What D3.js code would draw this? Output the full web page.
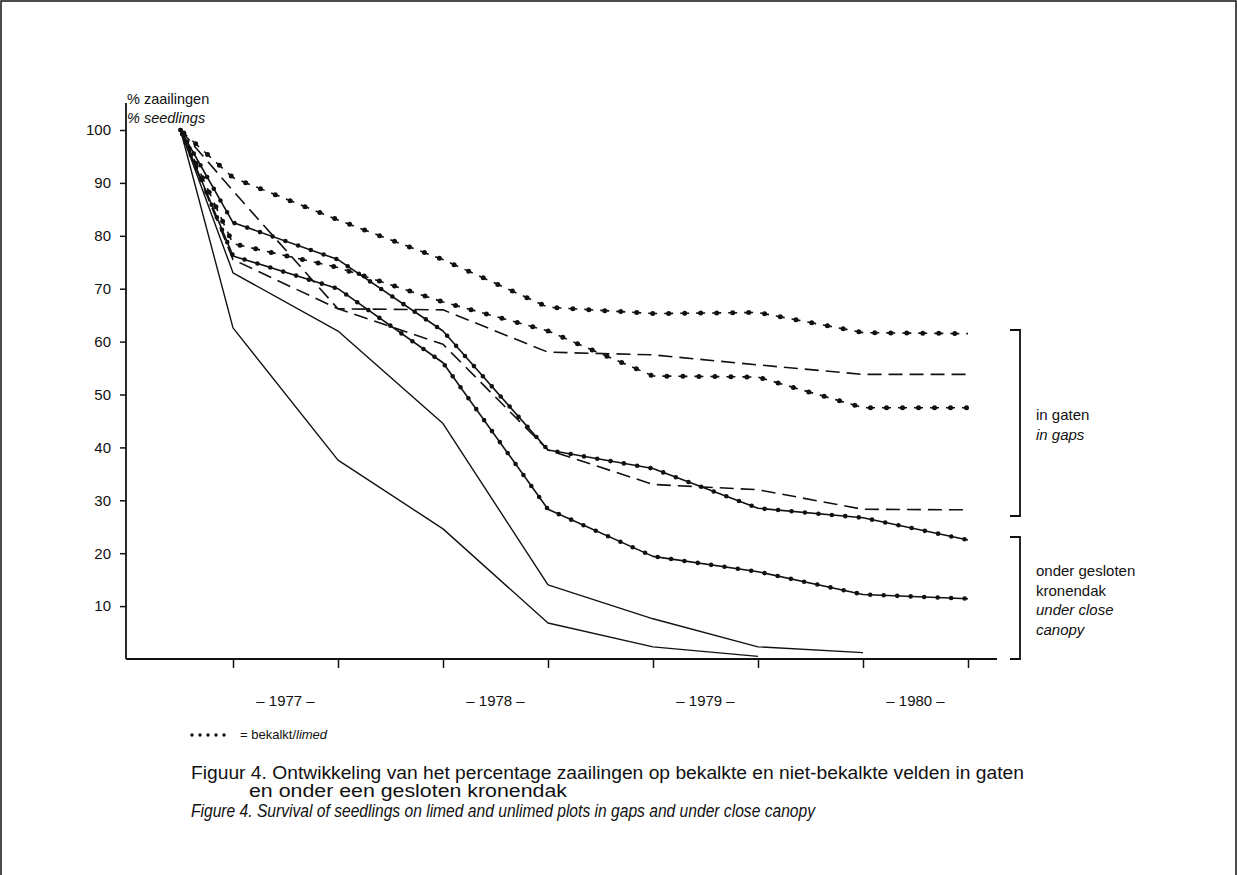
<!DOCTYPE html>
<html>
<head>
<meta charset="utf-8">
<script src="https://cdn.jsdelivr.net/npm/d3@7"></script>
<style>
  body { margin: 0; background: #fff; }
  svg { display: block; }
  text { font-family: 'Liberation Sans', Arial, sans-serif; fill: #111; }
</style>
</head>
<body>
<svg id="chart" width="1237" height="875"></svg>
<script>
// sample moments: start + two counts per year (1977..1980)
const samplePos = [0.5, 1, 2, 3, 4, 5, 6, 7, 8];
const xTicks = [1, 2, 3, 4, 5, 6, 7, 8];
const yTicks = [10, 20, 30, 40, 50, 60, 70, 80, 90, 100];
const years = ['1977', '1978', '1979', '1980'];
const yearPos = [1.5, 3.5, 5.5, 7.5];

// in gaten / in gaps
const gapLimedA = [100, 91, 83, 75.5, 66.5, 65.3, 65.5, 61.7, 61.5];
const gapLimedB = [100, 78.5, 74, 67.5, 62, 53.5, 53.3, 47.5, 47.5];
const gapUnlimedA = [100, 88.5, 66.2, 66, 58, 57.5, 55.6, 53.8, 53.8];
const gapUnlimedB = [100, 75.5, 66.2, 59.5, 39.5, 33, 32, 28.3, 28.2];
// onder gesloten kronendak / under close canopy
const canopyLimedA = [100, 82.5, 75.5, 62, 39.5, 36, 28.5, 26.7, 22.5];
const canopyLimedB = [100, 76.2, 70, 56, 28.3, 19.4, 16.5, 12.2, 11.4];
const canopyUnlimedA = [100, 73, 62, 44.5, 14, 7.6, 2.3, 1.2, null];
const canopyUnlimedB = [100, 62.6, 37.6, 24.6, 6.8, 2.3, 0.5, null, null];

const series = [
  { values: gapLimedA, kind: 'gapLimed' },
  { values: gapLimedB, kind: 'gapLimed' },
  { values: gapUnlimedA, kind: 'gapUnlimed' },
  { values: gapUnlimedB, kind: 'gapUnlimed' },
  { values: canopyLimedA, kind: 'canopyLimed' },
  { values: canopyLimedB, kind: 'canopyLimed' },
  { values: canopyUnlimedA, kind: 'canopyUnlimed' },
  { values: canopyUnlimedB, kind: 'canopyUnlimed' }
];

const svg = d3.select('#chart');
const ink = '#111';

// frame
svg.append('path')
  .attr('d', 'M1,875 V1 H1236 V875')
  .attr('fill', 'none')
  .attr('stroke', ink)
  .attr('stroke-width', 1.5);

const x = d3.scaleLinear().domain([1, 8]).range([233, 968]);
const y = d3.scaleLinear().domain([0, 100]).range([659, 130]);

// y axis
const yAxis = svg.append('g')
  .attr('transform', 'translate(126,0)')
  .call(d3.axisLeft(y).tickValues(yTicks).tickSize(6).tickPadding(9));
yAxis.select('.domain').remove();
yAxis.selectAll('line').attr('stroke', ink).attr('stroke-width', 1.5);
yAxis.selectAll('text').style('font-size', '15px').style('font-family', null).attr('fill', ink);
svg.append('line')
  .attr('x1', 126).attr('x2', 126)
  .attr('y1', 103).attr('y2', y(0))
  .attr('stroke', ink).attr('stroke-width', 1.8);

// x axis
const xAxis = svg.append('g')
  .attr('transform', 'translate(0,' + y(0) + ')')
  .call(d3.axisBottom(x).tickValues(xTicks).tickSize(9).tickFormat(''));
xAxis.select('.domain').remove();
xAxis.selectAll('line').attr('stroke', ink).attr('stroke-width', 1.5);
svg.append('line')
  .attr('x1', 126).attr('x2', 997)
  .attr('y1', y(0)).attr('y2', y(0))
  .attr('stroke', ink).attr('stroke-width', 1.8);

svg.selectAll('.year')
  .data(years)
  .enter().append('text')
  .attr('class', 'year')
  .attr('x', (d, i) => x(yearPos[i]))
  .attr('y', 706)
  .attr('text-anchor', 'middle')
  .style('font-size', '15px')
  .text(d => '\u2013 ' + d + ' \u2013');

// axis title
svg.append('text').attr('x', 127).attr('y', 104).style('font-size', '14.5px').text('% zaailingen');
svg.append('text').attr('x', 127).attr('y', 123).style('font-size', '14.5px').style('font-style', 'italic').text('% seedlings');

// lines
const line = d3.line()
  .defined(d => d != null)
  .x((d, i) => x(samplePos[i]))
  .y(d => y(d));

const styles = {
  gapLimed: { dash: '9 7', width: 1.6, dots: '0 16', dotOffset: -4.5, dotSize: 5 },
  gapUnlimed: { dash: '14 7', width: 1.6 },
  canopyLimed: { dash: null, width: 1.6, dots: '0 13.5', dotOffset: 0, dotSize: 4.6 },
  canopyUnlimed: { dash: null, width: 1.4 }
};

series.forEach(s => {
  const st = styles[s.kind];
  svg.append('path')
    .datum(s.values)
    .attr('d', line)
    .attr('fill', 'none')
    .attr('stroke', ink)
    .attr('stroke-width', st.width)
    .attr('stroke-dasharray', st.dash)
    .attr('stroke-linejoin', 'round');
  if (st.dots) {
    svg.append('path')
      .datum(s.values)
      .attr('d', line)
      .attr('fill', 'none')
      .attr('stroke', ink)
      .attr('stroke-width', st.dotSize)
      .attr('stroke-linecap', 'round')
      .attr('stroke-dasharray', st.dots)
      .attr('stroke-dashoffset', st.dotOffset);
  }
});

// brackets at right
const bracket = (top, bottom) => {
  svg.append('path')
    .attr('d', 'M1010,' + top + ' H1020 V' + bottom + ' H1010')
    .attr('fill', 'none')
    .attr('stroke', ink)
    .attr('stroke-width', 1.8);
};
bracket(330, 516);
bracket(537, y(0));

const note = (lines, x0, y0) => {
  lines.forEach((l, i) => {
    svg.append('text')
      .attr('x', x0).attr('y', y0 + i * 19.5)
      .style('font-size', '15px')
      .style('font-style', l.it ? 'italic' : 'normal')
      .text(l.t);
  });
};
note([{ t: 'in gaten' }, { t: 'in gaps', it: true }], 1036, 420);
note([{ t: 'onder gesloten' }, { t: 'kronendak' }, { t: 'under close', it: true }, { t: 'canopy', it: true }], 1036, 576);

// caption in narrow type, each line fitted to its printed width
const capFont = 17.5;
const capLine = (txt, x0, y0, w, italic) => svg.append('text')
  .attr('x', x0).attr('y', y0)
  .attr('textLength', w).attr('lengthAdjust', 'spacingAndGlyphs')
  .style('font-size', capFont + 'px')
  .style('font-style', italic ? 'italic' : 'normal')
  .text(txt);

capLine('Figuur 4. Ontwikkeling van het percentage zaailingen op bekalkte en niet-bekalkte velden in gaten', 191, 779, 833);
capLine('en onder een gesloten kronendak', 249, 797, 318);
capLine('Figure 4. Survival of seedlings on limed and unlimed plots in gaps and under close canopy', 191, 817, 624, true);

// legend
svg.append('line')
  .attr('x1', 192).attr('x2', 232)
  .attr('y1', 735).attr('y2', 735)
  .attr('stroke', ink)
  .attr('stroke-width', 3.4)
  .attr('stroke-linecap', 'round')
  .attr('stroke-dasharray', '0 8');
const leg = svg.append('text').attr('x', 240).attr('y', 739).style('font-size', '13px');
leg.append('tspan').text('= bekalkt/');
leg.append('tspan').style('font-style', 'italic').text('limed');
</script>
</body>
</html>
